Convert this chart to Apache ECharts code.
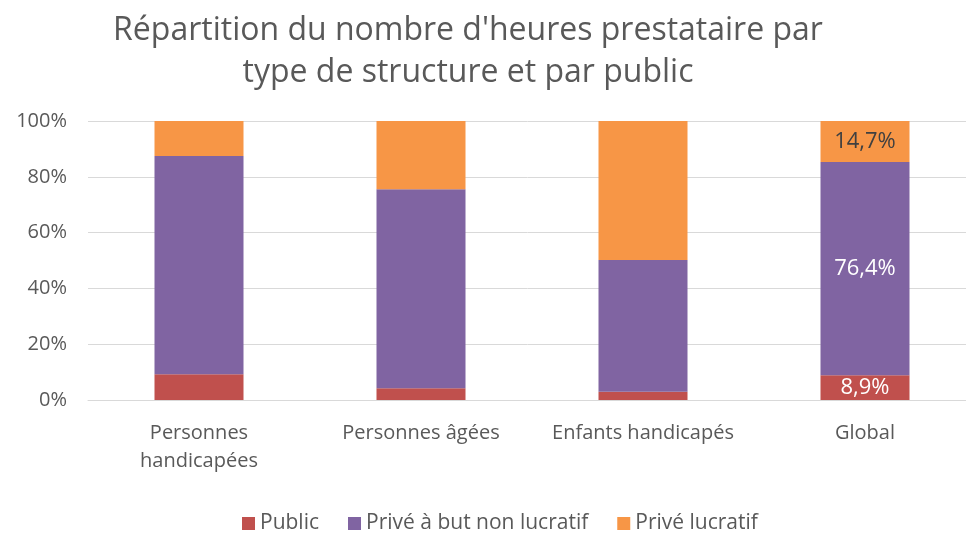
<!DOCTYPE html>
<html><head><meta charset="utf-8">
<script src="https://cdn.jsdelivr.net/npm/echarts@6/dist/echarts.min.js"></script>
<style>html,body{margin:0;padding:0;background:#fff}#c{width:966px;height:533px}</style>
</head><body><div id="c"></div>
<script>
const categories = ['Personnes\nhandicapées', 'Personnes âgées', 'Enfants handicapés', 'Global'];
const publicVals = [9.2, 4.2, 3.0, 8.9];
const nonLucratifVals = [78.3, 71.3, 47.2, 76.4];
const lucratifVals = [12.5, 24.5, 49.8, 14.7];
const yTicks = [0, 20, 40, 60, 80, 100];
const labelledIndex = 3;

const font = 'Open Sans';
function lbl(color) {
  return {
    show: true,
    fontFamily: font, fontSize: 22, color: color,
    formatter: p => p.dataIndex === labelledIndex ? p.value.toFixed(1).replace('.', ',') + '%' : ''
  };
}
const chart = echarts.init(document.getElementById('c'));
chart.setOption({
  animation: false,
  title: {
    text: 'Répartition du nombre d\'heures prestataire par\ntype de structure et par public',
    left: 463, top: 5, textAlign: 'center',
    textStyle: { fontFamily: font, fontSize: 32, fontWeight: 'normal', color: '#595959', lineHeight: 42 }
  },
  legend: {
    top: 508, left: 237, itemWidth: 13, itemHeight: 13, itemGap: 29,
    icon: 'rect',
    textStyle: { fontFamily: font, fontSize: 21, color: '#595959' },
    data: ['Public', 'Privé à but non lucratif', 'Privé lucratif']
  },
  grid: { left: 88, top: 121, right: -10, height: 279, containLabel: false, outerBoundsMode: 'none' },
  xAxis: {
    type: 'category', data: categories,
    axisLine: { lineStyle: { color: '#d9d9d9' } },
    axisTick: { show: false },
    axisLabel: { interval: 0, fontFamily: font, fontSize: 20, color: '#595959', margin: 19, lineHeight: 28 }
  },
  yAxis: {
    type: 'value', min: yTicks[0], max: yTicks[yTicks.length - 1], interval: 20,
    axisLine: { show: false }, axisTick: { show: false },
    splitLine: { lineStyle: { color: '#d9d9d9' } },
    axisLabel: { fontFamily: font, fontSize: 20, color: '#595959', margin: 21, formatter: v => v + '%' }
  },
  series: [
    { name: 'Public', type: 'bar', stack: 's', barWidth: 89, data: publicVals,
      itemStyle: { color: '#c0504d' }, label: lbl('#ffffff') },
    { name: 'Privé à but non lucratif', type: 'bar', stack: 's', data: nonLucratifVals,
      itemStyle: { color: '#8064a2' }, label: lbl('#ffffff') },
    { name: 'Privé lucratif', type: 'bar', stack: 's', data: lucratifVals,
      itemStyle: { color: '#f79646' }, label: lbl('#404040') }
  ]
});
</script></body></html>
